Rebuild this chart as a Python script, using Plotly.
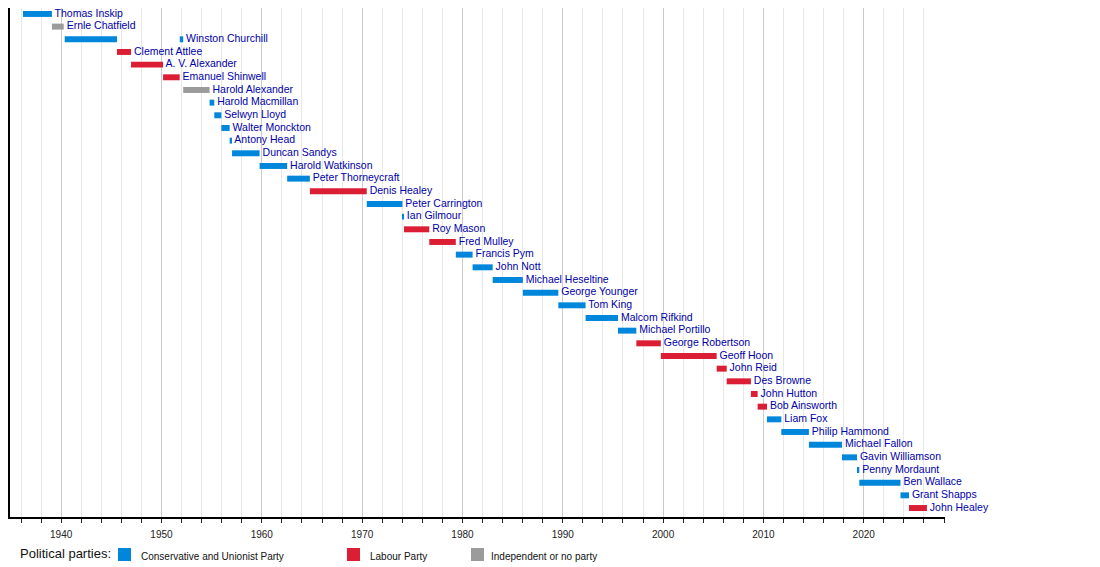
import datetime as dt
import plotly.graph_objects as go

# Ministers / Secretaries of State for Defence (one entry per term)
names = ["Thomas Inskip", "Ernle Chatfield", "Winston Churchill", "Clement Attlee",
         "A. V. Alexander", "Emanuel Shinwell", "Winston Churchill", "Harold Alexander",
         "Harold Macmillan", "Selwyn Lloyd", "Walter Monckton", "Antony Head",
         "Duncan Sandys", "Harold Watkinson", "Peter Thorneycraft", "Denis Healey",
         "Peter Carrington", "Ian Gilmour", "Roy Mason", "Fred Mulley", "Francis Pym",
         "John Nott", "Michael Heseltine", "George Younger", "Tom King",
         "Malcom Rifkind", "Michael Portillo", "George Robertson", "Geoff Hoon",
         "John Reid", "Des Browne", "John Hutton", "Bob Ainsworth", "Liam Fox",
         "Philip Hammond", "Michael Fallon", "Gavin Williamson", "Penny Mordaunt",
         "Ben Wallace", "Grant Shapps", "John Healey"]
starts = ["1936-03-13", "1939-01-29", "1940-05-10", "1945-07-27", "1946-12-20",
          "1950-02-28", "1951-10-28", "1952-03-01", "1954-10-18", "1955-04-07",
          "1955-12-20", "1956-10-18", "1957-01-13", "1959-10-14", "1962-07-13",
          "1964-10-16", "1970-06-20", "1974-01-08", "1974-03-05", "1976-09-10",
          "1979-05-05", "1981-01-05", "1983-01-06", "1986-01-09", "1989-07-24",
          "1992-04-11", "1995-07-05", "1997-05-03", "1999-10-11", "2005-05-06",
          "2006-05-05", "2008-10-03", "2009-06-05", "2010-05-12", "2011-10-14",
          "2014-07-15", "2017-11-02", "2019-05-01", "2019-07-24", "2023-08-31",
          "2024-07-05"]
ends = ["1939-01-29", "1940-04-03", "1945-07-26", "1946-12-20", "1950-02-28",
        "1951-10-26", "1952-03-01", "1954-10-18", "1955-04-07", "1955-12-20",
        "1956-10-18", "1957-01-13", "1959-10-14", "1962-07-13", "1964-10-16",
        "1970-06-19", "1974-01-08", "1974-03-04", "1976-09-10", "1979-05-04",
        "1981-01-05", "1983-01-06", "1986-01-09", "1989-07-24", "1992-04-10",
        "1995-07-05", "1997-05-02", "1999-10-11", "2005-05-05", "2006-05-05",
        "2008-10-03", "2009-06-05", "2010-05-11", "2011-10-14", "2014-07-15",
        "2017-11-01", "2019-05-01", "2019-07-24", "2023-08-31", "2024-07-05",
        "2026-04-20"]
parties = ["Con", "Ind", "Con", "Lab", "Lab", "Lab", "Con", "Ind", "Con", "Con",
           "Con", "Con", "Con", "Con", "Con", "Lab", "Con", "Con", "Lab", "Lab",
           "Con", "Con", "Con", "Con", "Con", "Con", "Con", "Lab", "Lab", "Lab",
           "Lab", "Lab", "Lab", "Con", "Con", "Con", "Con", "Con", "Con", "Con",
           "Lab"]

party_names = {"Con": "Conservative and Unionist Party",
               "Lab": "Labour Party",
               "Ind": "Independent or no party"}
party_colors = {"Con": "#0087DC", "Lab": "#DC1E35", "Ind": "#9B9B9B"}


def year_frac(s):
    d = dt.date.fromisoformat(s)
    return d.year + (d.timetuple().tm_yday - 1) / 365.25


# one row per person, in order of first appearance
rows = []
for n in names:
    if n not in rows:
        rows.append(n)
row_of = [rows.index(n) for n in names]
x0 = [year_frac(s) for s in starts]
x1 = [year_frac(e) for e in ends]

fig = go.Figure()

for p in ["Con", "Lab", "Ind"]:
    idx = [i for i in range(len(names)) if parties[i] == p]
    fig.add_trace(go.Bar(
        orientation="h",
        base=[x0[i] for i in idx],
        x=[x1[i] - x0[i] for i in idx],
        y=[row_of[i] for i in idx],
        width=0.47,
        marker=dict(color=party_colors[p], line=dict(width=0)),
        name=party_names[p],
        showlegend=False,
        hoverinfo="skip"))

# label after the last term of each person
last_end = {}
for i, n in enumerate(names):
    last_end[n] = x1[i]
fig.add_trace(go.Scatter(
    x=[last_end[n] for n in rows],
    y=list(range(len(rows))),
    mode="text",
    text=[" " + n for n in rows],
    textposition="middle right",
    textfont=dict(family="Liberation Sans, Arial", size=10.5, color="#0000A8"),
    cliponaxis=False,
    showlegend=False,
    hoverinfo="skip"))

# page body has an 8px margin, so the figure is a bit smaller than the window
fig.update_layout(
    width=1092, height=559,
    margin=dict(l=2, r=155, t=0, b=50),
    plot_bgcolor="white",
    paper_bgcolor="white",
    barmode="overlay",
    font=dict(family="Liberation Sans, Arial", color="#222222"),
    xaxis=dict(range=[1934.9, 2028.1], tick0=1940, dtick=10,
               showgrid=True, gridcolor="#cccccc", gridwidth=1,
               ticks="outside", ticklen=4, tickcolor="#222222",
               tickfont=dict(size=10), ticklabelstandoff=3,
               showline=True, linecolor="black", linewidth=1.5,
               zeroline=False,
               minor=dict(dtick=2, tick0=1940, showgrid=True,
                          gridcolor="#e8e8e8", ticks="outside", ticklen=4,
                          tickcolor="#222222")),
    yaxis=dict(range=[39.71, -0.47], showticklabels=False, showgrid=False,
               zeroline=False, showline=True, linecolor="black", linewidth=1.5,
               ticks=""))

# legend drawn underneath
pw, ph = 935.0, 509.0
fig.add_annotation(x=(18 - 10) / pw, y=(517 - 553) / ph, xref="paper", yref="paper",
                   text="Political parties:", showarrow=False, xanchor="left",
                   yanchor="middle", font=dict(size=13, color="#111111"))
leg_x = {"Con": 118, "Lab": 347, "Ind": 471}
leg_tx = {"Con": 139, "Lab": 368, "Ind": 489}
for p in ["Con", "Lab", "Ind"]:
    fig.add_shape(type="rect", xref="paper", yref="paper",
                  x0=(leg_x[p] - 10) / pw, x1=(leg_x[p] + 3) / pw,
                  y0=(517 - 548) / ph, y1=(517 - 561) / ph,
                  fillcolor=party_colors[p], line=dict(width=0))
    fig.add_annotation(x=(leg_tx[p] - 10) / pw, y=(517 - 556) / ph,
                       xref="paper", yref="paper", text=party_names[p],
                       showarrow=False, xanchor="left", yanchor="middle",
                       font=dict(size=10, color="#111111"))

fig.write_html("out.html")
